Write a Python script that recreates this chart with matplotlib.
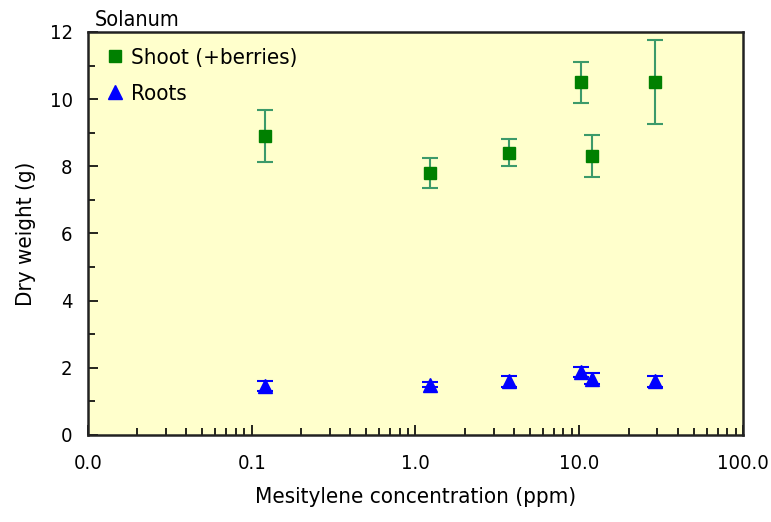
import matplotlib
matplotlib.use('Agg')
import matplotlib.pyplot as plt
from matplotlib.lines import Line2D
from matplotlib.ticker import FixedLocator, FixedFormatter, LogLocator, MultipleLocator, NullFormatter

plt.rcParams['font.family'] = ['DejaVu Sans']
plt.rcParams['font.stretch'] = 'condensed'

# mesitylene exposure levels (ppm)
conc = [0.12, 1.22, 3.7, 10.3, 12.0, 29.0]

shoot = [8.9, 7.8, 8.4, 10.5, 8.3, 10.5]
shoot_err = [0.77, 0.45, 0.4, 0.62, 0.63, 1.25]

roots = [1.45, 1.5, 1.6, 1.88, 1.68, 1.6]
roots_err = [0.15, 0.08, 0.16, 0.15, 0.17, 0.16]

xtick_vals = [0.01, 0.1, 1, 10, 100]
xtick_labels = ['0.0', '0.1', '1.0', '10.0', '100.0']

fig = plt.figure(figsize=(7.71, 5.22), dpi=100)
ax = fig.add_axes([0.114, 0.1667, 0.8497, 0.772])
ax.set_facecolor('#ffffcc')

ax.errorbar(conc, shoot, yerr=shoot_err, fmt='s', color='green', ms=9,
            ecolor='#3c9a6a', elinewidth=1.5, capsize=6, capthick=1.5)
ax.errorbar(conc, roots, yerr=roots_err, fmt='^', color='blue', ms=10,
            ecolor='blue', elinewidth=1.5, capsize=6, capthick=1.5)

ax.set_xscale('log')
ax.set_xlim(0.01, 100)
ax.set_ylim(0, 12)

ax.xaxis.set_major_locator(FixedLocator(xtick_vals))
ax.xaxis.set_major_formatter(FixedFormatter(xtick_labels))
ax.xaxis.set_minor_locator(LogLocator(base=10, subs=range(2, 10)))
ax.xaxis.set_minor_formatter(NullFormatter())
ax.yaxis.set_major_locator(MultipleLocator(2))
ax.yaxis.set_minor_locator(MultipleLocator(1))

ax.tick_params(which='both', direction='in', labelsize=14.5, width=1.2)
ax.tick_params(which='major', length=7)
ax.tick_params(which='minor', length=5)
ax.tick_params(axis='x', which='major', pad=14)
ax.tick_params(axis='y', which='major', pad=11)

for s in ax.spines.values():
    s.set_linewidth(1.8)
    s.set_color('#222222')

ax.set_xlabel('Mesitylene concentration (ppm)', fontsize=16, labelpad=10)
ax.set_ylabel('Dry weight (g)', fontsize=16, labelpad=10)
ax.text(0.01, 1.005, 'Solanum', transform=ax.transAxes, fontsize=15.5,
        ha='left', va='bottom')

handles = [Line2D([], [], ls='none', marker='s', color='green', ms=9),
           Line2D([], [], ls='none', marker='^', color='blue', ms=10)]
ax.legend(handles, ['Shoot (+berries)', 'Roots'], loc='upper left',
          frameon=False, fontsize=16, handlelength=1.0, handletextpad=0.25,
          labelspacing=0.75, borderaxespad=0.3)

fig.savefig('out.png', dpi=100)
